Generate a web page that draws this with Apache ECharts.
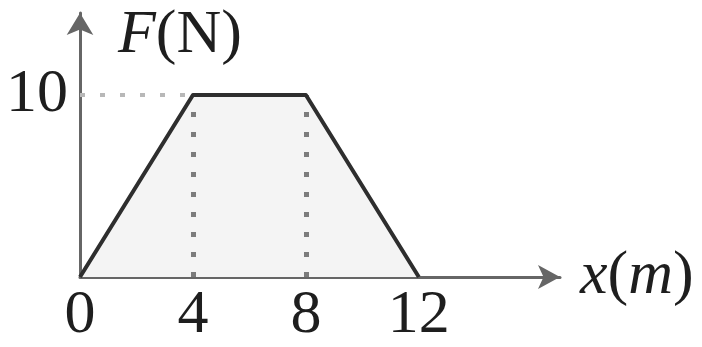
<!DOCTYPE html>
<html>
<head>
<meta charset="utf-8">
<script src="https://cdn.jsdelivr.net/npm/echarts@6/dist/echarts.min.js"></script>
<style>
  html, body { margin: 0; padding: 0; background: #fff; }
  #chart { width: 702px; height: 347px; }
</style>
</head>
<body>
<div id="chart"></div>
<script>
// Force F (N) as a function of displacement x (m): a trapezoidal profile
const positions = [0, 4, 8, 12];
const forces = [0, 10, 10, 0];
const xTickLabels = [0, 4, 8, 12];
const yTickLabels = [10];
// dotted guide lines: verticals at the corners, horizontal at the plateau
const guideXs = [4, 8];
const plateau = 10;

const serif = '"Liberation Serif", "DejaVu Serif", serif';
const ink = '#1e1e1e';

const chart = echarts.init(document.getElementById('chart'), null, { renderer: 'canvas' });

const profile = positions.map((x, i) => [x, forces[i]]);
const guides = guideXs.map(x => [{ coord: [x, 0] }, { coord: [x, plateau] }]);
guides.push([{ coord: [0, plateau] }, { coord: [guideXs[0], plateau], lineStyle: { color: '#b8b8b8', width: 4 } }]);

chart.setOption({
  animation: false,
  backgroundColor: '#fff',
  grid: { left: 80, right: 142, top: 13, bottom: 70 },
  xAxis: {
    type: 'value', min: 0, max: 17, interval: 4,
    name: '{i|x}({i|m})',
    nameLocation: 'end', nameGap: 20,
    nameTextStyle: {
      fontFamily: serif, fontSize: 62, color: ink, verticalAlign: 'middle',
      rich: { i: { fontFamily: serif, fontSize: 62, fontStyle: 'italic', color: ink } }
    },
    axisLine: { show: true, symbol: ['none', 'arrow'], symbolSize: [18, 22], lineStyle: { color: '#666', width: 3 } },
    axisTick: { show: false },
    splitLine: { show: false },
    axisLabel: {
      margin: 8, fontFamily: serif, fontSize: 62, color: ink,
      formatter: v => xTickLabels.includes(v) ? String(v) : ''
    }
  },
  yAxis: {
    type: 'value', min: 0, max: 14.5, interval: 5,
    name: '{i|F}(N)',
    nameLocation: 'end', nameGap: 8,
    nameTextStyle: {
      fontFamily: serif, fontSize: 62, color: ink, align: 'left', verticalAlign: 'top',
      padding: [0, 0, 0, 38],
      rich: { i: { fontFamily: serif, fontSize: 62, fontStyle: 'italic', color: ink } }
    },
    axisLine: { show: true, symbol: ['none', 'arrow'], symbolSize: [20, 22], lineStyle: { color: '#666', width: 3 } },
    axisTick: { show: false },
    splitLine: { show: false },
    axisLabel: {
      margin: 12, fontFamily: serif, fontSize: 62, color: ink,
      formatter: v => yTickLabels.includes(v) ? String(v) : ''
    }
  },
  series: [
    {
      // shaded area under the force curve (work done)
      type: 'line',
      data: profile,
      symbol: 'none',
      lineStyle: { width: 0, opacity: 0 },
      areaStyle: { color: '#f4f4f4', opacity: 1 },
      z: 1,
      markLine: {
        silent: true,
        symbol: ['none', 'none'],
        label: { show: false },
        lineStyle: { color: '#7c7c7c', width: 5, type: [5, 15] },
        data: guides
      }
    },
    {
      // outline of the force profile
      type: 'line',
      data: profile,
      symbol: 'none',
      lineStyle: { color: '#2e2e2e', width: 4, join: 'round' },
      z: 10
    }
  ]
});
</script>
</body>
</html>
